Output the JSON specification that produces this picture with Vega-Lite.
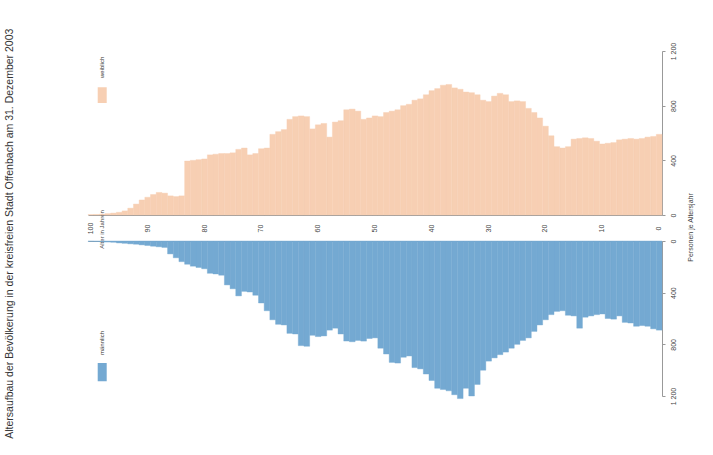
{
"$schema": "https://vega.github.io/schema/vega-lite/v6.json",
"padding": {"left": 4, "top": 28, "right": 5, "bottom": 5},
"bounds": "flush",
"spacing": 26,
"background": "white",
"title": {"text": "Altersaufbau der Bevölkerung in der kreisfreien Stadt Offenbach am 31. Dezember 2003", "orient": "left", "fontSize": 10.5, "font": "Liberation Sans", "fontWeight": "normal", "color": "#333333", "offset": 71, "dx": -34},
"config": {"view": {"stroke": null}, "font": "Liberation Sans"},
"datasets": {"pop": [
{"age":0,"sex":"weiblich","count":590},{"age":1,"sex":"weiblich","count":575},{"age":2,"sex":"weiblich","count":570},{"age":3,"sex":"weiblich","count":560},{"age":4,"sex":"weiblich","count":555},{"age":5,"sex":"weiblich","count":560},{"age":6,"sex":"weiblich","count":555},{"age":7,"sex":"weiblich","count":550},{"age":8,"sex":"weiblich","count":530},{"age":9,"sex":"weiblich","count":525},
{"age":10,"sex":"weiblich","count":520},{"age":11,"sex":"weiblich","count":540},{"age":12,"sex":"weiblich","count":560},{"age":13,"sex":"weiblich","count":565},{"age":14,"sex":"weiblich","count":560},{"age":15,"sex":"weiblich","count":555},{"age":16,"sex":"weiblich","count":500},{"age":17,"sex":"weiblich","count":490},{"age":18,"sex":"weiblich","count":500},{"age":19,"sex":"weiblich","count":580},
{"age":20,"sex":"weiblich","count":650},{"age":21,"sex":"weiblich","count":710},{"age":22,"sex":"weiblich","count":750},{"age":23,"sex":"weiblich","count":780},{"age":24,"sex":"weiblich","count":830},{"age":25,"sex":"weiblich","count":835},{"age":26,"sex":"weiblich","count":830},{"age":27,"sex":"weiblich","count":880},{"age":28,"sex":"weiblich","count":890},{"age":29,"sex":"weiblich","count":870},
{"age":30,"sex":"weiblich","count":830},{"age":31,"sex":"weiblich","count":840},{"age":32,"sex":"weiblich","count":880},{"age":33,"sex":"weiblich","count":895},{"age":34,"sex":"weiblich","count":900},{"age":35,"sex":"weiblich","count":920},{"age":36,"sex":"weiblich","count":930},{"age":37,"sex":"weiblich","count":955},{"age":38,"sex":"weiblich","count":950},{"age":39,"sex":"weiblich","count":925},
{"age":40,"sex":"weiblich","count":910},{"age":41,"sex":"weiblich","count":880},{"age":42,"sex":"weiblich","count":850},{"age":43,"sex":"weiblich","count":840},{"age":44,"sex":"weiblich","count":810},{"age":45,"sex":"weiblich","count":800},{"age":46,"sex":"weiblich","count":770},{"age":47,"sex":"weiblich","count":760},{"age":48,"sex":"weiblich","count":750},{"age":49,"sex":"weiblich","count":720},
{"age":50,"sex":"weiblich","count":725},{"age":51,"sex":"weiblich","count":710},{"age":52,"sex":"weiblich","count":700},{"age":53,"sex":"weiblich","count":760},{"age":54,"sex":"weiblich","count":775},{"age":55,"sex":"weiblich","count":770},{"age":56,"sex":"weiblich","count":690},{"age":57,"sex":"weiblich","count":680},{"age":58,"sex":"weiblich","count":570},{"age":59,"sex":"weiblich","count":670},
{"age":60,"sex":"weiblich","count":660},{"age":61,"sex":"weiblich","count":630},{"age":62,"sex":"weiblich","count":720},{"age":63,"sex":"weiblich","count":725},{"age":64,"sex":"weiblich","count":720},{"age":65,"sex":"weiblich","count":700},{"age":66,"sex":"weiblich","count":625},{"age":67,"sex":"weiblich","count":610},{"age":68,"sex":"weiblich","count":590},{"age":69,"sex":"weiblich","count":490},
{"age":70,"sex":"weiblich","count":485},{"age":71,"sex":"weiblich","count":450},{"age":72,"sex":"weiblich","count":440},{"age":73,"sex":"weiblich","count":490},{"age":74,"sex":"weiblich","count":480},{"age":75,"sex":"weiblich","count":455},{"age":76,"sex":"weiblich","count":450},{"age":77,"sex":"weiblich","count":450},{"age":78,"sex":"weiblich","count":445},{"age":79,"sex":"weiblich","count":440},
{"age":80,"sex":"weiblich","count":410},{"age":81,"sex":"weiblich","count":405},{"age":82,"sex":"weiblich","count":400},{"age":83,"sex":"weiblich","count":395},{"age":84,"sex":"weiblich","count":140},{"age":85,"sex":"weiblich","count":135},{"age":86,"sex":"weiblich","count":140},{"age":87,"sex":"weiblich","count":160},{"age":88,"sex":"weiblich","count":165},{"age":89,"sex":"weiblich","count":150},
{"age":90,"sex":"weiblich","count":130},{"age":91,"sex":"weiblich","count":110},{"age":92,"sex":"weiblich","count":80},{"age":93,"sex":"weiblich","count":50},{"age":94,"sex":"weiblich","count":30},{"age":95,"sex":"weiblich","count":20},{"age":96,"sex":"weiblich","count":14},{"age":97,"sex":"weiblich","count":10},{"age":98,"sex":"weiblich","count":6},{"age":99,"sex":"weiblich","count":4},{"age":100,"sex":"weiblich","count":3},
{"age":0,"sex":"männlich","count":690},{"age":1,"sex":"männlich","count":680},{"age":2,"sex":"männlich","count":660},{"age":3,"sex":"männlich","count":655},{"age":4,"sex":"männlich","count":660},{"age":5,"sex":"männlich","count":635},{"age":6,"sex":"männlich","count":630},{"age":7,"sex":"männlich","count":580},{"age":8,"sex":"männlich","count":605},{"age":9,"sex":"männlich","count":600},
{"age":10,"sex":"männlich","count":565},{"age":11,"sex":"männlich","count":570},{"age":12,"sex":"männlich","count":580},{"age":13,"sex":"männlich","count":590},{"age":14,"sex":"männlich","count":675},{"age":15,"sex":"männlich","count":580},{"age":16,"sex":"männlich","count":575},{"age":17,"sex":"männlich","count":540},{"age":18,"sex":"männlich","count":545},{"age":19,"sex":"männlich","count":570},
{"age":20,"sex":"männlich","count":610},{"age":21,"sex":"männlich","count":650},{"age":22,"sex":"männlich","count":700},{"age":23,"sex":"männlich","count":750},{"age":24,"sex":"männlich","count":770},{"age":25,"sex":"männlich","count":800},{"age":26,"sex":"männlich","count":830},{"age":27,"sex":"männlich","count":860},{"age":28,"sex":"männlich","count":880},{"age":29,"sex":"männlich","count":905},
{"age":30,"sex":"männlich","count":930},{"age":31,"sex":"männlich","count":1000},{"age":32,"sex":"männlich","count":1110},{"age":33,"sex":"männlich","count":1200},{"age":34,"sex":"männlich","count":1140},{"age":35,"sex":"männlich","count":1220},{"age":36,"sex":"männlich","count":1190},{"age":37,"sex":"männlich","count":1160},{"age":38,"sex":"männlich","count":1150},{"age":39,"sex":"männlich","count":1140},
{"age":40,"sex":"männlich","count":1080},{"age":41,"sex":"männlich","count":1030},{"age":42,"sex":"männlich","count":990},{"age":43,"sex":"männlich","count":980},{"age":44,"sex":"männlich","count":890},{"age":45,"sex":"männlich","count":900},{"age":46,"sex":"männlich","count":945},{"age":47,"sex":"männlich","count":940},{"age":48,"sex":"männlich","count":875},{"age":49,"sex":"männlich","count":830},
{"age":50,"sex":"männlich","count":750},{"age":51,"sex":"männlich","count":755},{"age":52,"sex":"männlich","count":775},{"age":53,"sex":"männlich","count":770},{"age":54,"sex":"männlich","count":780},{"age":55,"sex":"männlich","count":775},{"age":56,"sex":"männlich","count":720},{"age":57,"sex":"männlich","count":675},{"age":58,"sex":"männlich","count":690},{"age":59,"sex":"männlich","count":735},
{"age":60,"sex":"männlich","count":740},{"age":61,"sex":"männlich","count":730},{"age":62,"sex":"männlich","count":815},{"age":63,"sex":"männlich","count":810},{"age":64,"sex":"männlich","count":720},{"age":65,"sex":"männlich","count":715},{"age":66,"sex":"männlich","count":650},{"age":67,"sex":"männlich","count":645},{"age":68,"sex":"männlich","count":610},{"age":69,"sex":"männlich","count":540},
{"age":70,"sex":"männlich","count":480},{"age":71,"sex":"männlich","count":420},{"age":72,"sex":"männlich","count":395},{"age":73,"sex":"männlich","count":390},{"age":74,"sex":"männlich","count":425},{"age":75,"sex":"männlich","count":370},{"age":76,"sex":"männlich","count":340},{"age":77,"sex":"männlich","count":265},{"age":78,"sex":"männlich","count":255},{"age":79,"sex":"männlich","count":250},
{"age":80,"sex":"männlich","count":215},{"age":81,"sex":"männlich","count":205},{"age":82,"sex":"männlich","count":195},{"age":83,"sex":"männlich","count":180},{"age":84,"sex":"männlich","count":160},{"age":85,"sex":"männlich","count":130},{"age":86,"sex":"männlich","count":100},{"age":87,"sex":"männlich","count":50},{"age":88,"sex":"männlich","count":45},{"age":89,"sex":"männlich","count":40},
{"age":90,"sex":"männlich","count":35},{"age":91,"sex":"männlich","count":30},{"age":92,"sex":"männlich","count":25},{"age":93,"sex":"männlich","count":22},{"age":94,"sex":"männlich","count":18},{"age":95,"sex":"männlich","count":15},{"age":96,"sex":"männlich","count":10},{"age":97,"sex":"männlich","count":8},{"age":98,"sex":"männlich","count":6},{"age":99,"sex":"männlich","count":4},{"age":100,"sex":"männlich","count":3}
]},
"vconcat": [
{
"width": 574, "height": 164,
"layer": [
{"data": {"name": "pop"},
 "transform": [{"filter": "datum.sex === 'weiblich'"}],
 "mark": {"type": "bar", "color": "#f7cfb3", "stroke": "#f7cfb3", "strokeWidth": 0.4},
 "encoding": {
  "x": {"field": "age", "type": "ordinal", "sort": "descending", "scale": {"paddingInner": 0, "paddingOuter": 0},
        "axis": {"orient": "bottom", "values": [0,10,20,30,40,50,60,70,80,90,100], "labelAngle": 270, "labelAlign": "center", "labelBaseline": "middle", "labelFontSize": 7, "labelColor": "#444444", "ticks": false, "labelPadding": 13, "domainColor": "#999999", "domainWidth": 1,
                 "title": "Alter in Jahren", "titleAngle": 270, "titleFontSize": 6, "titleFontWeight": "normal", "titleColor": "#444444", "titleX": 13, "titleY": 14, "titleAlign": "center", "titleBaseline": "middle"}},
  "y": {"field": "count", "type": "quantitative", "scale": {"domain": [0, 1200], "nice": false},
        "axis": {"orient": "right", "values": [0,200,400,600,800,1000,1200], "labelExpr": "replace(format(datum.value, ','), ',', ' ')", "labelAngle": 270, "labelAlign": "center", "labelBaseline": "middle", "labelFontSize": 7, "labelColor": "#444444", "tickSize": 3, "tickColor": "#999999", "domainColor": "#999999", "labelPadding": 8, "grid": false,
                 "title": "Personen je Altersjahr", "titleAngle": 270, "titleFontSize": 7, "titleFontWeight": "normal", "titleColor": "#444444", "titleX": 28, "titleY": 176, "titleAlign": "center", "titleBaseline": "middle"}}
 }},
{"data": {"values": [{}]},
 "mark": {"type": "bar", "color": "#f7cfb3", "width": 9},
 "encoding": {"x": {"datum": 98, "type": "ordinal"}, "y": {"datum": 820, "type": "quantitative"}, "y2": {"datum": 935}}},
{"data": {"values": [{}]},
 "mark": {"type": "text", "angle": 270, "fontSize": 6, "color": "#333333", "align": "center", "baseline": "middle"},
 "encoding": {"x": {"datum": 98, "type": "ordinal"}, "y": {"datum": 1080, "type": "quantitative"}, "text": {"value": "weiblich"}}}
]
},
{
"width": 574, "height": 155,
"layer": [
{"data": {"name": "pop"},
 "transform": [{"filter": "datum.sex === 'männlich'"}],
 "mark": {"type": "bar", "color": "#74a9d2", "stroke": "#74a9d2", "strokeWidth": 0.4},
 "encoding": {
  "x": {"field": "age", "type": "ordinal", "sort": "descending", "scale": {"paddingInner": 0, "paddingOuter": 0},
        "axis": {"orient": "top", "labels": false, "ticks": false, "domainColor": "#999999", "title": null}},
  "y": {"field": "count", "type": "quantitative", "scale": {"domain": [0, 1200], "nice": false, "reverse": true},
        "axis": {"orient": "right", "values": [0,200,400,600,800,1000,1200], "labelExpr": "replace(format(datum.value, ','), ',', ' ')", "labelAngle": 270, "labelAlign": "center", "labelBaseline": "middle", "labelFontSize": 7, "labelColor": "#444444", "tickSize": 3, "tickColor": "#999999", "domainColor": "#999999", "labelPadding": 8, "grid": false, "title": null}}
 }},
{"data": {"values": [{}]},
 "mark": {"type": "bar", "color": "#74a9d2", "width": 9},
 "encoding": {"x": {"datum": 98, "type": "ordinal"}, "y": {"datum": 945, "type": "quantitative"}, "y2": {"datum": 1085}}},
{"data": {"values": [{}]},
 "mark": {"type": "text", "angle": 270, "fontSize": 6, "color": "#333333", "align": "center", "baseline": "middle"},
 "encoding": {"x": {"datum": 98, "type": "ordinal"}, "y": {"datum": 790, "type": "quantitative"}, "text": {"value": "männlich"}}}
]
}
]
}
